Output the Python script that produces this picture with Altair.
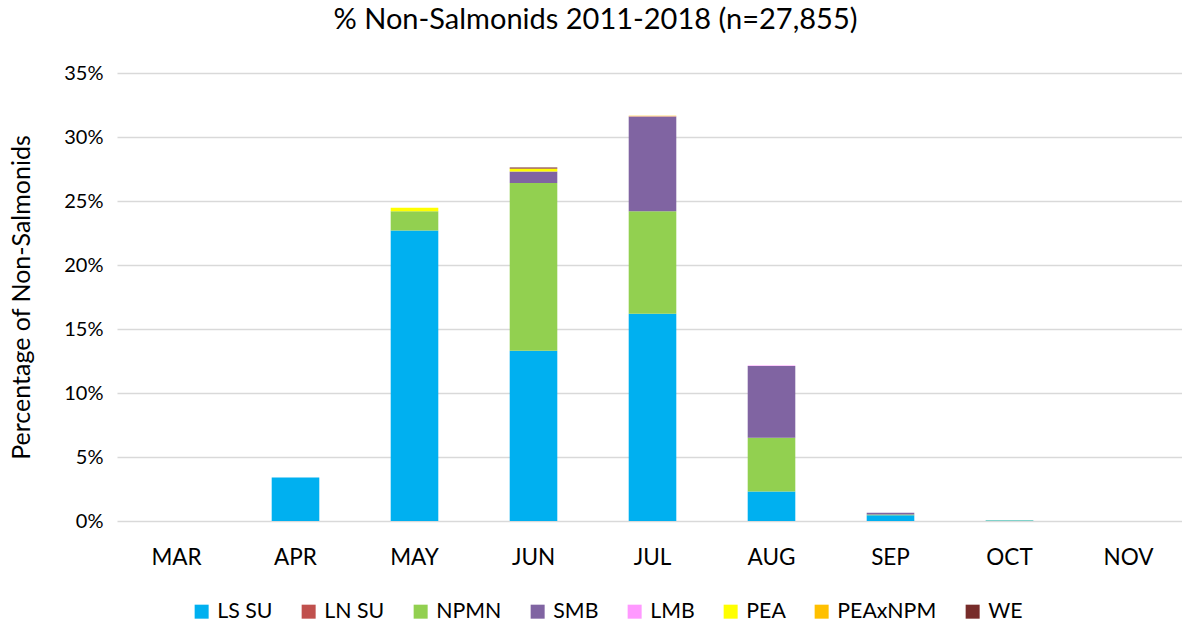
import altair as alt
import pandas as pd

months = ["MAR", "APR", "MAY", "JUN", "JUL", "AUG", "SEP", "OCT", "NOV"]
species = ["LS SU", "LN SU", "NPMN", "SMB", "LMB", "PEA", "PEAxNPM", "WE"]
colors = ["#00B0F0", "#C0504D", "#92D050", "#8064A2", "#FF99FF", "#FFFF00", "#FFC000", "#772C2A"]

# percent of non-salmonid catch per month, by species
ls_su = [0.0, 3.4, 22.7, 13.3, 16.2, 2.3, 0.45, 0.03, 0.0]
ln_su = [0.0, 0.0, 0.0, 0.0, 0.0, 0.0, 0.0, 0.0, 0.0]
npmn = [0.0, 0.0, 1.5, 13.1, 8.0, 4.2, 0.05, 0.02, 0.0]
smb = [0.0, 0.0, 0.0, 0.9, 7.4, 5.6, 0.15, 0.0, 0.0]
lmb = [0.0, 0.0, 0.0, 0.0, 0.02, 0.05, 0.0, 0.0, 0.0]
pea = [0.0, 0.0, 0.27, 0.2, 0.0, 0.0, 0.0, 0.0, 0.0]
pea_x_npm = [0.0, 0.0, 0.0, 0.03, 0.04, 0.0, 0.0, 0.0, 0.0]
we = [0.0, 0.0, 0.0, 0.08, 0.0, 0.0, 0.0, 0.0, 0.0]

series = [ls_su, ln_su, npmn, smb, lmb, pea, pea_x_npm, we]

rows = []
for i, (name, vals) in enumerate(zip(species, series)):
    for m, v in zip(months, vals):
        rows.append({"month": m, "species": name, "pct": v / 100.0, "order": i})
df = pd.DataFrame(rows)

FONT = "Lato"

chart = (
    alt.Chart(df)
    .mark_bar()
    .encode(
        x=alt.X(
            "month:N",
            sort=months,
            title=None,
            scale=alt.Scale(paddingInner=0.6, paddingOuter=0.3, range=[0, 1071]),
            axis=alt.Axis(
                labelFontSize=22.5,
                labelFont=FONT,
                labelColor="#000000",
                labelPadding=25,
                ticks=False,
                domain=False,
                labelAngle=0,
                grid=False,
            ),
        ),
        y=alt.Y(
            "sum(pct):Q",
            title="Percentage of Non-Salmonids",
            stack="zero",
            scale=alt.Scale(domain=[0, 0.35], nice=False),
            axis=alt.Axis(
                format=".0%",
                values=[0, 0.05, 0.10, 0.15, 0.20, 0.25, 0.30, 0.35],
                labelFontSize=20,
                labelFont=FONT,
                labelColor="#000000",
                labelPadding=14,
                ticks=False,
                domain=False,
                gridColor="#D9D9D9",
                gridWidth=1.5,
                titleFontSize=25,
                titleFont=FONT,
                titleFontWeight="normal",
                titleColor="#000000",
                titlePadding=29,
            ),
        ),
        color=alt.Color(
            "species:N",
            sort=species,
            scale=alt.Scale(domain=species, range=colors),
            legend=alt.Legend(
                title=None,
                orient="none",
                direction="horizontal",
                legendX=74,
                legendY=528,
                symbolType="square",
                symbolSize=196,
                symbolStrokeWidth=0,
                labelFontSize=21.3,
                labelFont=FONT,
                labelColor="#000000",
                labelOffset=5,
                columnPadding=25,
            ),
        ),
        order=alt.Order("order:Q", sort="ascending"),
    )
    .properties(
        width=1041,
        height=448,
        padding={"left": 117, "top": 73, "right": 24, "bottom": 102},
        autosize=alt.AutoSizeParams(type="none"),
        background="white",
        title=alt.Title(
            "% Non-Salmonids 2011-2018 (n=27,855)",
            fontSize=29,
            font=FONT,
            fontWeight="normal",
            color="#000000",
            anchor="middle",
            dx=-42,
            offset=28,
        ),
    )
    .configure_view(stroke=None)
)

chart.save("out.html", embed_options={"renderer": "svg", "actions": False})
